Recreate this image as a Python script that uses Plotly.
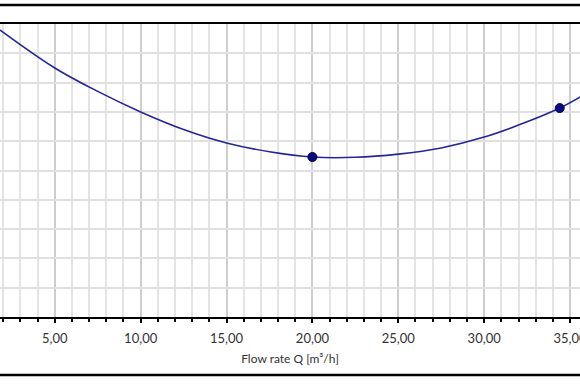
import plotly.graph_objects as go

# Curve (flow rate Q [m3/h], head in chart units)
flow_q = [1.8, 5.0, 7.5, 10.0, 12.5, 15.0, 17.5, 20.0, 22.5, 25.0, 27.5, 30.0, 32.5, 34.4, 35.6]
head_h = [9.80, 8.50, 7.70, 7.00, 6.40, 5.94, 5.64, 5.46, 5.45, 5.56, 5.77, 6.14, 6.66, 7.13, 7.51]

# Highlighted operating points
point_q = [20.0, 34.4]
point_h = [5.46, 7.13]

x_tick_vals = [5, 10, 15, 20, 25, 30, 35]
x_tick_text = ["5,00", "10,00", "15,00", "20,00", "25,00", "30,00", "35,00"]

navy = "#25259a"
font_family = "Lato, sans-serif"

fig = go.Figure()
fig.add_trace(go.Scatter(x=flow_q, y=head_h, mode="lines",
                         line=dict(color=navy, width=1.6, shape="spline"),
                         hoverinfo="skip", showlegend=False))
fig.add_trace(go.Scatter(x=point_q, y=point_h, mode="markers",
                         marker=dict(color="#0a0a80", size=9,
                                     line=dict(color="#000050", width=1)),
                         showlegend=False))

fig.update_layout(
    width=580, height=385,
    margin=dict(l=0, r=0, t=24, b=68, autoexpand=False),
    paper_bgcolor="white", plot_bgcolor="white",
    font=dict(family=font_family, size=13, color="#333333"),
    xaxis=dict(
        range=[1.81, 35.58], automargin=False,
        tickvals=x_tick_vals, ticktext=x_tick_text,
        ticklabeloverflow="allow",
        showgrid=True, gridcolor="#cdcdcd", gridwidth=2,
        ticks="outside", ticklen=4, tickwidth=2, tickcolor="black",
        ticklabelstandoff=4,
        showline=True, linecolor="black", linewidth=2, mirror=True,
        minor=dict(dtick=1, tick0=0, showgrid=True, gridcolor="#e4e4e4", gridwidth=2,
                   ticks="outside", ticklen=3, tickwidth=1.5, tickcolor="black"),
        tickfont=dict(size=13, color="#333333"),
        title=dict(text="Flow rate Q [m³/h]", standoff=10,
                   font=dict(size=12, color="#333333")),
        zeroline=False,
    ),
    yaxis=dict(
        range=[0, 10], dtick=1, tick0=0, automargin=False,
        showgrid=True, gridcolor="#e0e0e0", gridwidth=2,
        showticklabels=False, ticks="", zeroline=False, showline=False,
    ),
    shapes=[
        dict(type="line", xref="paper", yref="paper", x0=0, x1=1, y0=1.0648, y1=1.0648,
             line=dict(color="black", width=2.5)),
        dict(type="line", xref="paper", yref="paper", x0=0, x1=1, y0=-0.198, y1=-0.198,
             line=dict(color="black", width=2.5)),
    ],
)

fig.write_html("out.html", config={"displayModeBar": False},
               post_script="document.body.style.margin='0';")
